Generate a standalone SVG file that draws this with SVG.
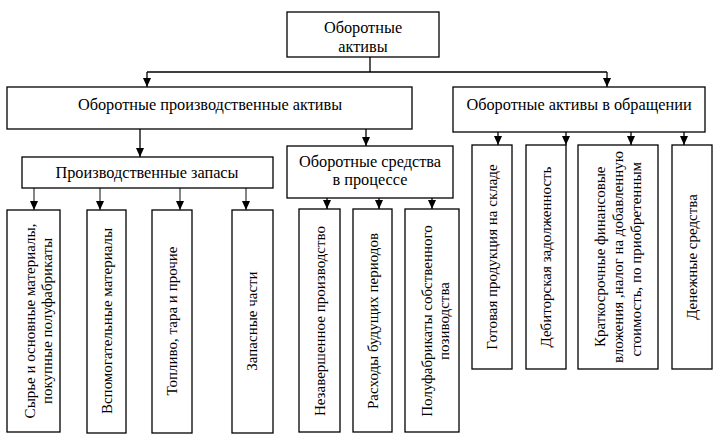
<svg xmlns="http://www.w3.org/2000/svg" width="723" height="443" viewBox="0 0 723 443">
<style>
.box{fill:#fff;stroke:#000;stroke-width:1.3}
text{font-family:'Liberation Serif','DejaVu Serif',serif;fill:#000;text-anchor:middle}
.t{font-size:16.3px}
.v{font-size:15px}
.s{text-anchor:start}
.e{text-anchor:end}
.c{fill:none;stroke:#000;stroke-width:1.3}
.g{stroke:#444}
</style>
<defs>
<marker id="ah" markerUnits="userSpaceOnUse" markerWidth="9" markerHeight="8" refX="9" refY="4" orient="auto">
<path d="M0,0 L9,4 L0,8 z" fill="#000"/>
</marker>
</defs>
<rect width="723" height="443" fill="#fff"/>
<g id="connectors">
<path class="c" d="M370,57 V72 M147,72 H607"/>
<path class="c" d="M147,72 V87" marker-end="url(#ah)"/>
<path class="c" d="M607,72 V87" marker-end="url(#ah)"/>
<path class="c" d="M140,129 V157" marker-end="url(#ah)"/>
<path class="c" d="M366,129 V146" marker-end="url(#ah)"/>
<path class="c g" d="M34,188 V210" marker-end="url(#ah)"/>
<path class="c g" d="M100,188 V210" marker-end="url(#ah)"/>
<path class="c g" d="M180,188 V210" marker-end="url(#ah)"/>
<path class="c g" d="M246,188 V210" marker-end="url(#ah)"/>
<path class="c" d="M327,198 V209" marker-end="url(#ah)"/>
<path class="c" d="M379,198 V209" marker-end="url(#ah)"/>
<path class="c" d="M432,198 V209" marker-end="url(#ah)"/>
<path class="c" d="M498,132 V145" marker-end="url(#ah)"/>
<path class="c" d="M566,132 V145" marker-end="url(#ah)"/>
<path class="c" d="M631,132 V145" marker-end="url(#ah)"/>
<path class="c" d="M684,132 V145" marker-end="url(#ah)"/>
</g>
<g id="n-root">
<rect class="box" x="287" y="12" width="152" height="45"/>
<text class="t" x="363" y="33">Оборотные</text>
<text class="t" x="363" y="52">активы</text>
</g>
<g id="n-prod">
<rect class="box" x="7" y="87" width="405" height="42"/>
<text class="t" x="210" y="110">Оборотные производственные активы</text>
</g>
<g id="n-circ">
<rect class="box" x="453" y="87" width="252" height="45"/>
<text class="t" x="579" y="110">Оборотные активы в обращении</text>
</g>
<g id="n-zapasy">
<rect class="box" x="22" y="157" width="251" height="31"/>
<text class="t" x="147" y="178">Производственные запасы</text>
</g>
<g id="n-process">
<rect class="box" x="287" y="146" width="166" height="52"/>
<text class="t" x="370" y="167">Оборотные средства</text>
<text class="t" x="370" y="185">в процессе</text>
</g>
<g id="n-syrye">
<rect class="box" x="7" y="210" width="53" height="222"/>
<text class="v" transform="translate(0,321) rotate(-90)" x="0" y="35">Сырье и основные материалы,</text>
<text class="v" transform="translate(0,321) rotate(-90)" x="0" y="52">покупные полуфабрикаты</text>
</g>
<g id="n-vspom">
<rect class="box" x="87" y="210" width="39" height="223"/>
<text class="v" transform="translate(0,321) rotate(-90)" x="0" y="112">Вспомогательные материалы</text>
</g>
<g id="n-toplivo">
<rect class="box" x="152" y="210" width="40" height="223"/>
<text class="v" transform="translate(0,321) rotate(-90)" x="0" y="177">Топливо, тара и прочие</text>
</g>
<g id="n-zapchasti">
<rect class="box" x="232" y="210" width="41" height="223"/>
<text class="v" transform="translate(0,321) rotate(-90)" x="0" y="257">Запасные части</text>
</g>
<g id="n-nezav">
<rect class="box" x="299" y="209" width="41" height="223"/>
<text class="v" transform="translate(0,321) rotate(-90)" x="0" y="325">Незавершенное производство</text>
</g>
<g id="n-rashody">
<rect class="box" x="353" y="209" width="39" height="223"/>
<text class="v" transform="translate(0,321) rotate(-90)" x="0" y="378">Расходы будущих периодов</text>
</g>
<g id="n-polufab">
<rect class="box" x="405" y="209" width="54" height="223"/>
<text class="v" transform="translate(0,321) rotate(-90)" x="0" y="432">Полуфабрикаты собственного</text>
<text class="v" transform="translate(0,321) rotate(-90)" x="0" y="449">позиводства</text>
</g>
<g id="n-gotovaya">
<rect class="box" x="472" y="145" width="40" height="224"/>
<text class="v" transform="translate(0,257) rotate(-90)" x="0" y="497">Готовая продукция на складе</text>
</g>
<g id="n-debitor">
<rect class="box" x="526" y="145" width="40" height="224"/>
<text class="v" transform="translate(0,257) rotate(-90)" x="0" y="551">Дебиторская задолженность</text>
</g>
<g id="n-kratko">
<rect class="box" x="578" y="145" width="80" height="224"/>
<text class="v s" transform="translate(0,257) rotate(-90)" x="-90" y="605">Краткосрочные финансовые</text>
<text class="v" transform="translate(0,257) rotate(-90)" x="0" y="623">вложения ,налог на добавленную</text>
<text class="v e" transform="translate(0,257) rotate(-90)" x="95" y="641">стоимость, по приобретенным</text>
</g>
<g id="n-dengi">
<rect class="box" x="672" y="145" width="40" height="224"/>
<text class="v" transform="translate(0,257) rotate(-90)" x="0" y="697">Денежные средства</text>
</g>
</svg>
